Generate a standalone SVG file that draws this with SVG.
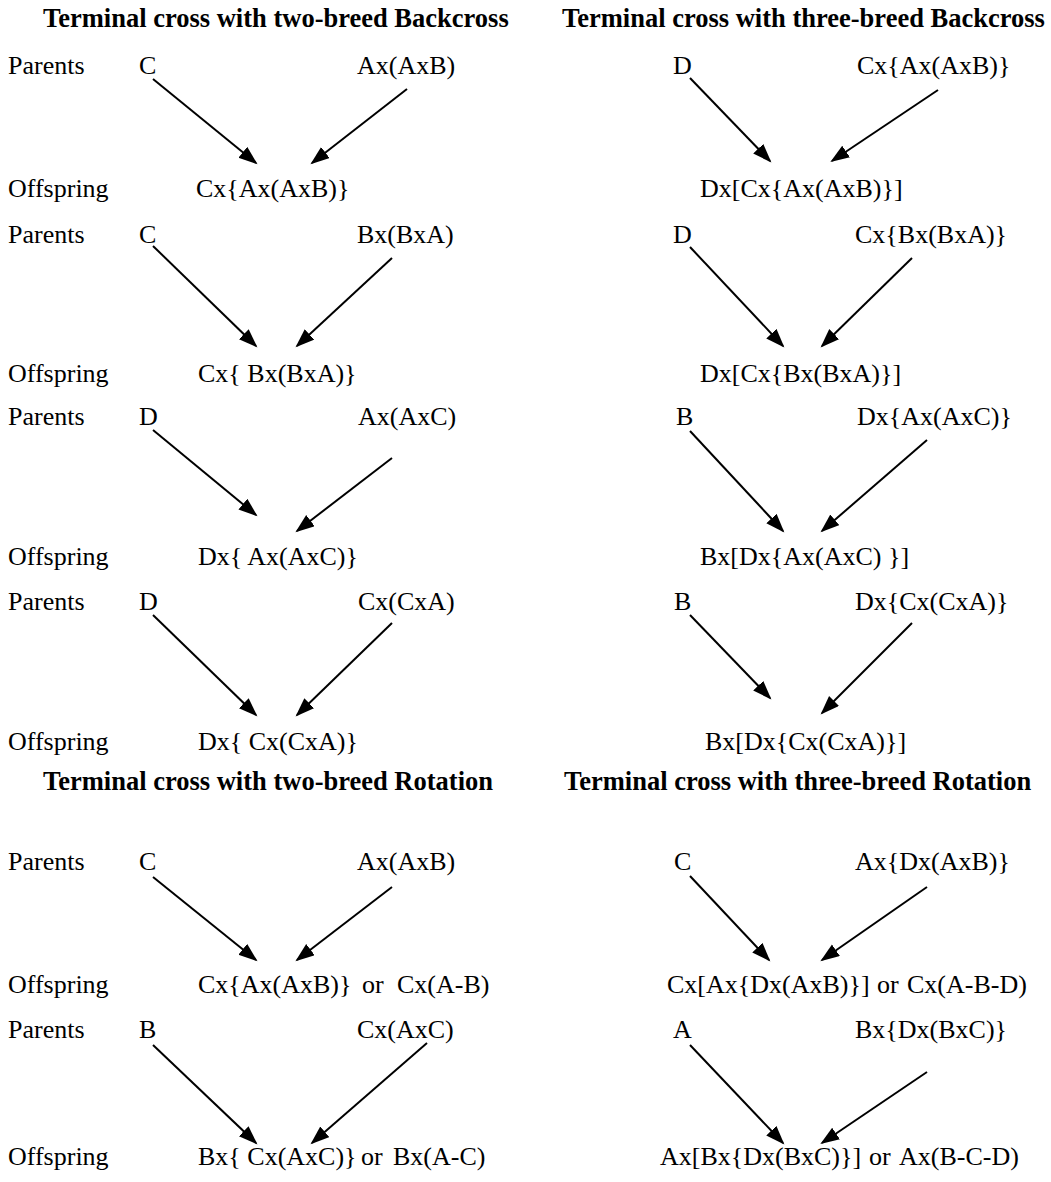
<svg xmlns="http://www.w3.org/2000/svg" width="1051" height="1182" viewBox="0 0 1051 1182">
  <style>
    text { font-family: "Liberation Serif", "Times New Roman", serif; font-size: 26px; fill: #000; }
    .title { font-weight: bold; font-size: 26.5px; }
    .conn line { stroke: #000; stroke-width: 2; fill: none; marker-end: url(#head); }
  </style>
  <defs>
    <marker id="head" markerUnits="userSpaceOnUse" markerWidth="20" markerHeight="16" refX="17" refY="7" orient="auto">
      <path d="M0,0 L19,7 L0,14 z" fill="#000"/>
    </marker>
  </defs>
  <rect width="1051" height="1182" fill="#fff"/>

  <!-- section headings -->
  <g id="title-two-backcross"><text class="title" x="43" y="27">Terminal cross with two-breed Backcross</text></g>
  <g id="title-three-backcross"><text class="title" x="562" y="27">Terminal cross with three-breed Backcross</text></g>
  <g id="title-two-rotation"><text class="title" x="43" y="790">Terminal cross with two-breed Rotation</text></g>
  <g id="title-three-rotation"><text class="title" x="564" y="790">Terminal cross with three-breed Rotation</text></g>

  <!-- row labels -->
  <g id="row-labels">
    <text x="8" y="74">Parents</text>
    <text x="8" y="197">Offspring</text>
    <text x="8" y="243">Parents</text>
    <text x="8" y="382">Offspring</text>
    <text x="8" y="425">Parents</text>
    <text x="8" y="565">Offspring</text>
    <text x="8" y="610">Parents</text>
    <text x="8" y="750">Offspring</text>
    <text x="8" y="870">Parents</text>
    <text x="8" y="993">Offspring</text>
    <text x="8" y="1038">Parents</text>
    <text x="8" y="1165">Offspring</text>
  </g>

  <!-- two-breed backcross -->
  <g id="l1-sire"><text x="139" y="74">C</text></g>
  <g id="l1-dam"><text x="357" y="74">Ax(AxB)</text></g>
  <g id="l1-offspring"><text x="196" y="197">Cx{Ax(AxB)}</text></g>

  <g id="l2-sire"><text x="139" y="243">C</text></g>
  <g id="l2-dam"><text x="357" y="243">Bx(BxA)</text></g>
  <g id="l2-offspring"><text x="198" y="382">Cx{ Bx(BxA)}</text></g>

  <g id="l3-sire"><text x="139" y="425">D</text></g>
  <g id="l3-dam"><text x="358" y="425">Ax(AxC)</text></g>
  <g id="l3-offspring"><text x="198" y="565">Dx{ Ax(AxC)}</text></g>

  <g id="l4-sire"><text x="139" y="610">D</text></g>
  <g id="l4-dam"><text x="358" y="610">Cx(CxA)</text></g>
  <g id="l4-offspring"><text x="198" y="750">Dx{ Cx(CxA)}</text></g>

  <!-- three-breed backcross -->
  <g id="r1-sire"><text x="673" y="74">D</text></g>
  <g id="r1-dam"><text x="857" y="74">Cx{Ax(AxB)}</text></g>
  <g id="r1-offspring"><text x="700" y="197">Dx[Cx{Ax(AxB)}]</text></g>

  <g id="r2-sire"><text x="673" y="243">D</text></g>
  <g id="r2-dam"><text x="855" y="243">Cx{Bx(BxA)}</text></g>
  <g id="r2-offspring"><text x="700" y="382">Dx[Cx{Bx(BxA)}]</text></g>

  <g id="r3-sire"><text x="676" y="425">B</text></g>
  <g id="r3-dam"><text x="857" y="425">Dx{Ax(AxC)}</text></g>
  <g id="r3-offspring"><text x="700" y="565">Bx[Dx{Ax(AxC) }]</text></g>

  <g id="r4-sire"><text x="674" y="610">B</text></g>
  <g id="r4-dam"><text x="855" y="610">Dx{Cx(CxA)}</text></g>
  <g id="r4-offspring"><text x="705" y="750">Bx[Dx{Cx(CxA)}]</text></g>

  <!-- two-breed rotation -->
  <g id="l5-sire"><text x="139" y="870">C</text></g>
  <g id="l5-dam"><text x="357" y="870">Ax(AxB)</text></g>
  <g id="l5-offspring"><text x="198" y="993">Cx{Ax(AxB)}<tspan x="362">or</tspan><tspan x="397">Cx(A-B)</tspan></text></g>

  <g id="l6-sire"><text x="139" y="1038">B</text></g>
  <g id="l6-dam"><text x="357" y="1038">Cx(AxC)</text></g>
  <g id="l6-offspring"><text x="198" y="1165">Bx{ Cx(AxC)}<tspan x="361">or</tspan><tspan x="393">Bx(A-C)</tspan></text></g>

  <!-- three-breed rotation -->
  <g id="r5-sire"><text x="674" y="870">C</text></g>
  <g id="r5-dam"><text x="855" y="870">Ax{Dx(AxB)}</text></g>
  <g id="r5-offspring"><text x="667" y="993">Cx[Ax{Dx(AxB)}]<tspan x="877">or</tspan><tspan x="907">Cx(A-B-D)</tspan></text></g>

  <g id="r6-sire"><text x="673" y="1038">A</text></g>
  <g id="r6-dam"><text x="855" y="1038">Bx{Dx(BxC)}</text></g>
  <g id="r6-offspring"><text x="660" y="1165">Ax[Bx{Dx(BxC)}]<tspan x="869">or</tspan><tspan x="899">Ax(B-C-D)</tspan></text></g>

  <!-- connectors: parent to offspring -->
  <g id="connectors" class="conn">
    <line x1="153" y1="79" x2="256" y2="163"/>
    <line x1="407" y1="89" x2="312" y2="163"/>
    <line x1="153" y1="246" x2="256" y2="346"/>
    <line x1="392" y1="258" x2="297" y2="346"/>
    <line x1="153" y1="430" x2="256" y2="515"/>
    <line x1="392" y1="458" x2="297" y2="531"/>
    <line x1="153" y1="615" x2="256" y2="715"/>
    <line x1="392" y1="623" x2="297" y2="715"/>

    <line x1="690" y1="78" x2="770" y2="161"/>
    <line x1="938" y1="90" x2="832" y2="161"/>
    <line x1="690" y1="247" x2="783" y2="346"/>
    <line x1="912" y1="258" x2="822" y2="346"/>
    <line x1="690" y1="431" x2="783" y2="531"/>
    <line x1="927" y1="440" x2="822" y2="531"/>
    <line x1="690" y1="615" x2="770" y2="698"/>
    <line x1="912" y1="623" x2="822" y2="713"/>

    <line x1="153" y1="877" x2="256" y2="960"/>
    <line x1="392" y1="887" x2="297" y2="960"/>
    <line x1="153" y1="1045" x2="256" y2="1143"/>
    <line x1="427" y1="1043" x2="312" y2="1143"/>

    <line x1="690" y1="876" x2="769" y2="960"/>
    <line x1="927" y1="887" x2="822" y2="960"/>
    <line x1="690" y1="1045" x2="783" y2="1143"/>
    <line x1="927" y1="1072" x2="822" y2="1143"/>
  </g>
</svg>
